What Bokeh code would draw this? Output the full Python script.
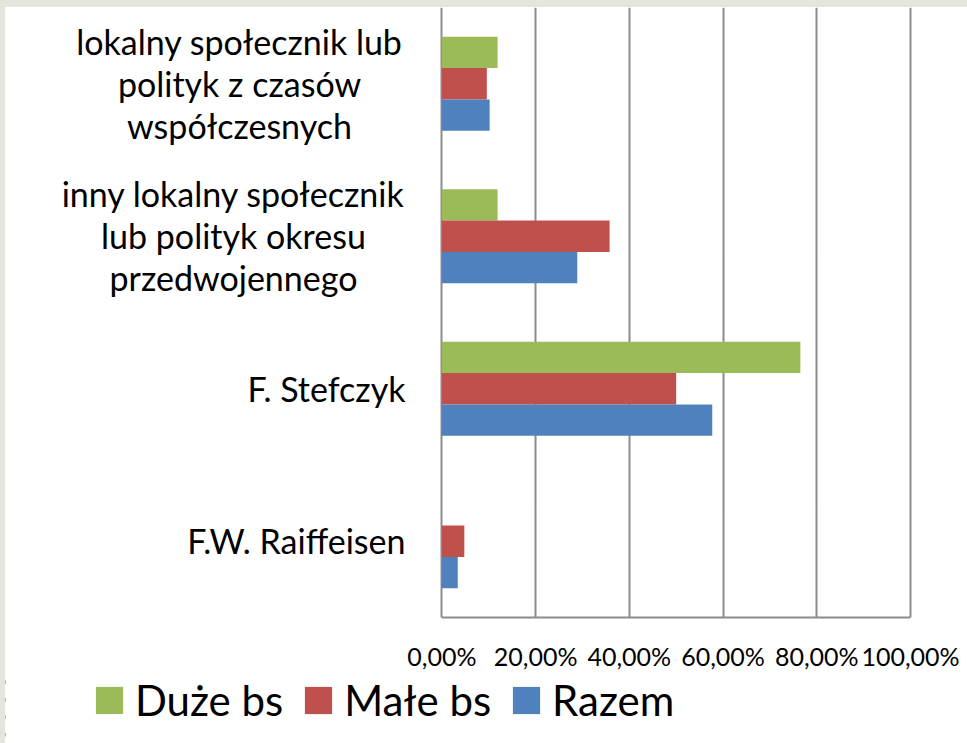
from bokeh.plotting import figure
from bokeh.layouts import column
from bokeh.models import (ColumnDataSource, FactorRange, LabelSet, Legend, LegendItem,
                          FixedTicker, Range1d)
from bokeh.transform import dodge
from bokeh.embed import file_html
from bokeh.resources import INLINE
from bokeh.core.properties import value

# ---- data ----
categories = [
    "F.W. Raiffeisen",
    "F. Stefczyk",
    "inny lokalny społecznik lub polityk okresu przedwojennego",
    "lokalny społecznik lub polityk z czasów współczesnych",
]
category_labels = [
    "F.W. Raiffeisen",
    "F. Stefczyk",
    "inny lokalny społecznik\nlub polityk okresu\nprzedwojennego",
    "lokalny społecznik lub\npolityk z czasów\nwspółczesnych",
]
series_names = ["Duże bs", "Małe bs", "Razem"]
duze_bs = [0.0, 0.765, 0.119, 0.119]
male_bs = [0.048, 0.500, 0.358, 0.096]
razem = [0.034, 0.577, 0.289, 0.102]
tick_values = [0.0, 0.2, 0.4, 0.6, 0.8, 1.0]
tick_labels = ["0,00%", "20,00%", "40,00%", "60,00%", "80,00%", "100,00%"]

# ---- style / layout ----
colors = ["#9BBB59", "#C0504D", "#4F81BD"]
FONT = "Lato"
FRAME_H = 611
BOTTOM_H = 55
GROUP_PX = FRAME_H / len(categories)
LINE_PX = 42          # line spacing of the category labels
BASE_PX = 13          # baseline of the middle line below the group centre
RIGHT_X = 400         # right edge of single-line labels (px from frame left)
CENTER_X = {2: 228, 3: 234}   # centre of multi-line label blocks

source = ColumnDataSource(data=dict(
    cat=categories, duze=duze_bs, male=male_bs, razem=razem,
))

# ---- main chart ----
p = figure(
    width=962, height=FRAME_H + BOTTOM_H,
    y_range=FactorRange(factors=categories),
    x_range=Range1d(-0.931, 1.1216),
    output_backend="svg", toolbar_location=None,
    min_border_left=0, min_border_right=0, min_border_top=0, min_border_bottom=BOTTOM_H,
)
p.outline_line_color = None
p.background_fill_color = "white"
p.border_fill_color = "white"

bar_h = 0.205
offsets = [bar_h, 0.0, -bar_h]
fields = ["duze", "male", "razem"]
for f, off, c in zip(fields, offsets, colors):
    p.hbar(y=dodge("cat", off, range=p.y_range), right=f, left=0, height=bar_h,
           source=source, fill_color=c, line_color=None)

p.yaxis.visible = False
p.ygrid.grid_line_color = None
p.xgrid.grid_line_color = "#8C8C8C"
p.xgrid.grid_line_width = 2
p.xgrid.ticker = FixedTicker(ticks=tick_values)
p.xaxis.ticker = FixedTicker(ticks=tick_values)
p.xaxis.bounds = (tick_values[0], tick_values[-1])
p.xaxis.major_label_overrides = {v: t for v, t in zip(tick_values, tick_labels)}
p.xaxis.axis_line_color = "#8C8C8C"
p.xaxis.axis_line_width = 2
p.xaxis.major_tick_line_color = None
p.xaxis.minor_tick_line_color = None
p.xaxis.major_tick_out = 0
p.xaxis.major_tick_in = 0
p.xaxis.major_label_standoff = 23
p.xaxis.major_label_text_font = FONT
p.xaxis.major_label_text_font_size = "25px"
p.xaxis.major_label_text_color = "black"

# ---- category labels: one row per text line ----
single = dict(x=[], y=[], text=[])
multi = dict(x=[], y=[], text=[])
for idx, lab in enumerate(category_labels):
    lines = lab.split("\n")
    mid = (len(lines) - 1) / 2
    for i, line in enumerate(lines):
        yy = idx + 0.5 - (BASE_PX + (i - mid) * LINE_PX) / GROUP_PX
        if len(lines) == 1:
            single["x"].append(RIGHT_X); single["y"].append(yy); single["text"].append(line)
        else:
            multi["x"].append(CENTER_X[idx]); multi["y"].append(yy); multi["text"].append(line)

for d, align in ((single, "right"), (multi, "center")):
    p.add_layout(LabelSet(x="x", x_units="screen", y="y", text="text",
                          source=ColumnDataSource(d),
                          text_align=align, text_baseline="alphabetic",
                          text_font=value(FONT), text_font_size="34px",
                          text_color="black"))

# ---- legend strip ----
p2 = figure(
    width=962, height=736 - FRAME_H - BOTTOM_H,
    y_range=FactorRange(factors=categories),
    x_range=Range1d(10, 11),
    x_axis_type=None, y_axis_type=None,
    output_backend="svg", toolbar_location=None,
    min_border_left=0, min_border_right=0, min_border_top=0, min_border_bottom=0,
)
p2.outline_line_color = None
p2.grid.visible = False
rs = []
for f, c in zip(fields, colors):
    rs.append(p2.hbar(y="cat", right=f, left=0, height=bar_h, source=source,
                      fill_color=c, line_color=None))

legend = Legend(items=[LegendItem(label=n, renderers=[r]) for n, r in zip(series_names, rs)],
                orientation="horizontal", location=(87, 18))
legend.glyph_width = 34
legend.glyph_height = 34
legend.label_standoff = 9
legend.spacing = 18
legend.padding = 0
legend.margin = 0
legend.border_line_color = None
legend.background_fill_alpha = 0
legend.label_text_font = FONT
legend.label_text_font_size = "42px"
legend.label_text_color = "black"
p2.add_layout(legend)

layout = column(p, p2, spacing=0,
                styles={"border-top": "7px solid #E4E6DD", "border-left": "5px solid #E4E6DD"})

open("out.html", "w").write(file_html(layout, INLINE))
